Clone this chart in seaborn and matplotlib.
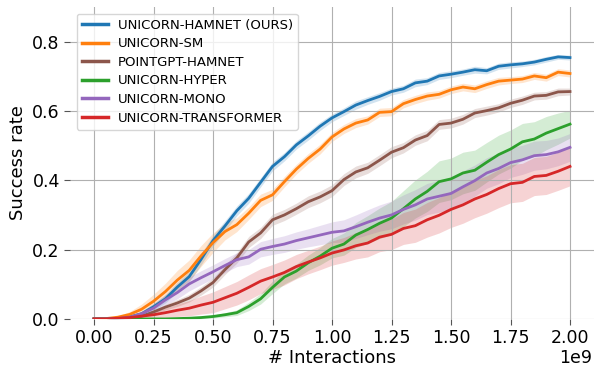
import numpy as np
import pandas as pd
import matplotlib
matplotlib.use("Agg")
import matplotlib.pyplot as plt
import seaborn as sns

# interactions (x 1e9)
steps = [0.00, 0.05, 0.10, 0.15, 0.20, 0.25, 0.30, 0.35, 0.40, 0.45,
         0.50, 0.55, 0.60, 0.65, 0.70, 0.75, 0.80, 0.85, 0.90, 0.95,
         1.00, 1.05, 1.10, 1.15, 1.20, 1.25, 1.30, 1.35, 1.40, 1.45,
         1.50, 1.55, 1.60, 1.65, 1.70, 1.75, 1.80, 1.85, 1.90, 1.95, 2.00]

hamnet = [0.000, 0.000, 0.002, 0.006, 0.015, 0.035, 0.058, 0.092, 0.122, 0.172,
          0.226, 0.268, 0.312, 0.348, 0.394, 0.440, 0.468, 0.502, 0.528, 0.556,
          0.580, 0.598, 0.617, 0.630, 0.642, 0.656, 0.664, 0.681, 0.686, 0.701,
          0.706, 0.712, 0.719, 0.716, 0.729, 0.733, 0.736, 0.741, 0.749, 0.756, 0.754]
sm = [0.000, 0.001, 0.005, 0.013, 0.028, 0.051, 0.079, 0.112, 0.140, 0.182,
      0.220, 0.252, 0.272, 0.305, 0.342, 0.358, 0.396, 0.432, 0.463, 0.490,
      0.525, 0.548, 0.565, 0.574, 0.596, 0.598, 0.621, 0.633, 0.643, 0.648,
      0.661, 0.669, 0.664, 0.676, 0.686, 0.689, 0.692, 0.701, 0.696, 0.712, 0.708]
pointgpt = [0.000, 0.000, 0.001, 0.003, 0.008, 0.020, 0.034, 0.046, 0.060, 0.081,
            0.105, 0.142, 0.176, 0.222, 0.248, 0.286, 0.300, 0.318, 0.338, 0.352,
            0.370, 0.402, 0.424, 0.436, 0.458, 0.481, 0.494, 0.516, 0.529, 0.561,
            0.565, 0.576, 0.594, 0.601, 0.609, 0.622, 0.631, 0.643, 0.645, 0.655, 0.656]
hyper = [0.000, 0.000, 0.000, 0.000, 0.000, 0.000, 0.000, 0.001, 0.002, 0.004,
         0.007, 0.012, 0.018, 0.036, 0.058, 0.091, 0.121, 0.138, 0.162, 0.181,
         0.204, 0.216, 0.242, 0.258, 0.276, 0.291, 0.318, 0.346, 0.368, 0.396,
         0.404, 0.421, 0.429, 0.452, 0.474, 0.490, 0.511, 0.519, 0.536, 0.549, 0.562]
mono = [0.000, 0.000, 0.001, 0.005, 0.015, 0.031, 0.055, 0.076, 0.101, 0.119,
        0.136, 0.154, 0.171, 0.179, 0.201, 0.209, 0.216, 0.226, 0.234, 0.242,
        0.250, 0.254, 0.266, 0.279, 0.291, 0.300, 0.316, 0.329, 0.346, 0.354,
        0.362, 0.381, 0.399, 0.421, 0.434, 0.451, 0.459, 0.471, 0.474, 0.482, 0.495]
transformer = [0.000, 0.000, 0.002, 0.004, 0.008, 0.012, 0.018, 0.025, 0.031, 0.040,
               0.048, 0.061, 0.074, 0.091, 0.109, 0.121, 0.134, 0.151, 0.164, 0.176,
               0.190, 0.199, 0.211, 0.219, 0.236, 0.244, 0.261, 0.269, 0.286, 0.299,
               0.316, 0.329, 0.346, 0.359, 0.376, 0.390, 0.394, 0.411, 0.414, 0.426, 0.440]

# half-width of the shaded band
hamnet_sd = [0.000, 0.000, 0.002, 0.004, 0.006, 0.010, 0.012, 0.014, 0.015, 0.016,
             0.016, 0.015, 0.014, 0.014, 0.013, 0.013, 0.012, 0.012, 0.012, 0.012,
             0.011, 0.011, 0.012, 0.011, 0.011, 0.010, 0.010, 0.011, 0.010, 0.010,
             0.010, 0.009, 0.010, 0.009, 0.009, 0.009, 0.008, 0.008, 0.008, 0.007, 0.007]
sm_sd = [0.000, 0.001, 0.004, 0.008, 0.015, 0.020, 0.024, 0.028, 0.030, 0.030,
         0.028, 0.024, 0.020, 0.018, 0.018, 0.016, 0.015, 0.014, 0.014, 0.014,
         0.013, 0.013, 0.013, 0.012, 0.012, 0.012, 0.012, 0.012, 0.012, 0.011,
         0.011, 0.011, 0.011, 0.011, 0.011, 0.010, 0.010, 0.010, 0.010, 0.010, 0.010]
pointgpt_sd = [0.000, 0.000, 0.001, 0.002, 0.004, 0.006, 0.008, 0.010, 0.011, 0.012,
               0.013, 0.014, 0.015, 0.016, 0.016, 0.016, 0.016, 0.016, 0.017, 0.017,
               0.017, 0.017, 0.017, 0.016, 0.016, 0.016, 0.015, 0.015, 0.015, 0.014,
               0.014, 0.014, 0.013, 0.013, 0.012, 0.012, 0.012, 0.011, 0.011, 0.011, 0.010]
hyper_sd = [0.000, 0.000, 0.000, 0.000, 0.000, 0.000, 0.000, 0.001, 0.002, 0.003,
            0.004, 0.006, 0.008, 0.012, 0.015, 0.018, 0.020, 0.020, 0.022, 0.025,
            0.028, 0.032, 0.036, 0.040, 0.044, 0.048, 0.052, 0.055, 0.058, 0.060,
            0.060, 0.060, 0.058, 0.057, 0.056, 0.055, 0.053, 0.050, 0.048, 0.045, 0.040]
mono_sd = [0.000, 0.000, 0.001, 0.004, 0.008, 0.012, 0.015, 0.018, 0.020, 0.020,
           0.020, 0.020, 0.020, 0.021, 0.022, 0.023, 0.024, 0.025, 0.026, 0.028,
           0.030, 0.032, 0.034, 0.036, 0.038, 0.040, 0.042, 0.044, 0.045, 0.046,
           0.046, 0.046, 0.045, 0.044, 0.044, 0.043, 0.042, 0.042, 0.041, 0.040, 0.040]
transformer_sd = [0.000, 0.000, 0.001, 0.003, 0.006, 0.010, 0.014, 0.018, 0.022, 0.026,
                  0.030, 0.032, 0.034, 0.036, 0.036, 0.036, 0.036, 0.035, 0.034, 0.034,
                  0.035, 0.036, 0.038, 0.040, 0.042, 0.044, 0.046, 0.048, 0.050, 0.051,
                  0.052, 0.053, 0.054, 0.054, 0.055, 0.055, 0.055, 0.055, 0.055, 0.055, 0.056]

names = ["UNICORN-HAMNET (OURS)", "UNICORN-SM", "POINTGPT-HAMNET",
         "UNICORN-HYPER", "UNICORN-MONO", "UNICORN-TRANSFORMER"]
colors = ["#1f77b4", "#ff7f0e", "#8c564b", "#2ca02c", "#9467bd", "#d62728"]
means = [hamnet, sm, pointgpt, hyper, mono, transformer]
sds = [hamnet_sd, sm_sd, pointgpt_sd, hyper_sd, mono_sd, transformer_sd]

x = np.array(steps) * 1e9
rows = []
for name, m, s in zip(names, means, sds):
    for xi, mi, si in zip(x, m, s):
        rows.append({"Interactions": xi, "Success": mi, "sd": si, "Method": name})
df = pd.DataFrame(rows)

plt.rcParams["font.family"] = ["DejaVu Sans"]
fig, ax = plt.subplots(figsize=(5.95, 3.67), dpi=100)
fig.subplots_adjust(left=0.118, right=0.998, top=0.981, bottom=0.131)

# bands first, lines above
for name, c in zip(names, colors):
    d = df[df["Method"] == name]
    ax.fill_between(d["Interactions"], d["Success"] - d["sd"], d["Success"] + d["sd"],
                    color=c, alpha=0.2, linewidth=0)

sns.lineplot(data=df, x="Interactions", y="Success", hue="Method", hue_order=names,
             palette=colors, linewidth=2, errorbar=None, ax=ax)

ax.set_ylim(0, 0.9)
ax.set_xlim(-0.1e9, 2.1e9)
ax.set_yticks([0.0, 0.2, 0.4, 0.6, 0.8])
ax.grid(True, color="#b0b0b0", linewidth=0.8)
for sp in ax.spines.values():
    sp.set_visible(False)
ax.tick_params(labelsize=12.5, length=4, color="#555555")
# offset label placed by hand so it stays inside the figure
ax.xaxis.get_offset_text().set_visible(False)
fig.text(0.995, 1 - 358 / 367, "1e9", ha="right", va="center", fontsize=12.5)
ax.set_xlabel("# Interactions", fontsize=13, labelpad=1)
ax.set_ylabel("Success rate", fontsize=13)

leg = ax.legend(loc="upper left", fontsize=9.5, labelspacing=0.42,
                borderpad=0.4, handletextpad=0.7, framealpha=0.8)
for line in leg.get_lines():
    line.set_linewidth(2.5)

plt.savefig("out.png", dpi=100)
plt.close()
